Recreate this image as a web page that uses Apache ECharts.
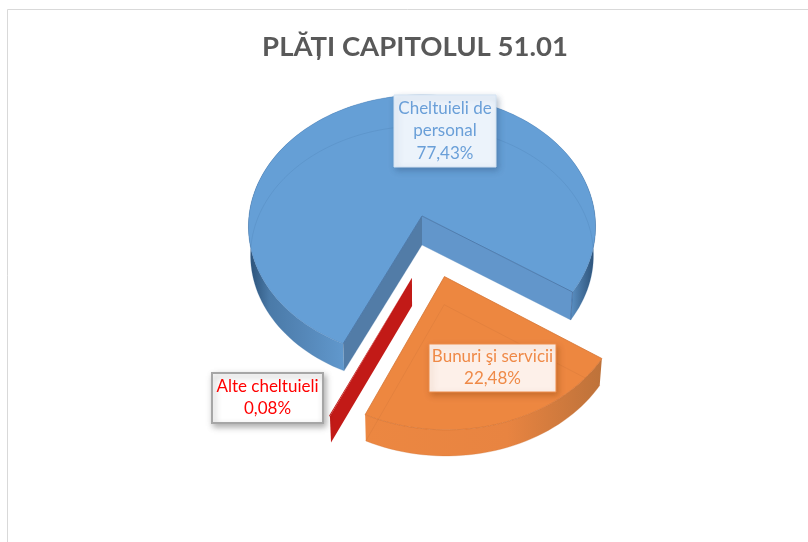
<!DOCTYPE html>
<html><head><meta charset="utf-8">
<style>html,body{margin:0;padding:0;background:#fff}#c{width:808px;height:542px}</style>
<script src="https://cdn.jsdelivr.net/npm/echarts@6/dist/echarts.min.js"></script>
</head><body><div id="c"></div>
<script>
const chartTitle = 'PLĂȚI CAPITOLUL 51.01';
const categories = ['Cheltuieli de\npersonal', 'Bunuri şi servicii', 'Alte cheltuieli'];
const values = [77.43, 22.48, 0.08];
const valueLabels = ['77,43%', '22,48%', '0,08%'];

// Projection and styling settings (not data)
const startAngle = 205, CX = 422, CY = 216, RX = 173, RY = 130.7, PERSP = 0.08, DEPTH = 29, SHRINK = 0.988;
const explode = [[0, 0], [0.125, 0.447], [-0.056, 0.456]];
const topColors = ['#659fd6', '#ed8740', '#c21a17'];
const hiddenLine = ['rgba(70,120,170,.22)', 'rgba(205,115,55,.3)', 'rgba(0,0,0,0)'];
const wallStops = [
  [[0, '#2a4f75'], [0.06, '#4a7aa8'], [0.16, '#5587b8'], [0.28, '#6199ce'], [0.92, '#6199ce'], [0.96, '#44719e'], [1, '#2a4f75']],
  [[0, '#ec8741'], [0.6, '#e88441'], [1, '#bd723a']],
  [[0, '#a91512'], [1, '#a91512']]
];
const labelBoxes = [
  {x: 394, y: 95, w: 102, h: 72, fill: '#ecf3fb', border: '#d3e3f3', bw: 1, color: '#6a9fd8', lh: 22.5, shadow: 'rgba(40,70,110,.35)'},
  {x: 429, y: 344, w: 127, h: 48, fill: '#fdf0e9', border: '#ee8c4a', bw: 1, color: '#ef8a48', lh: 22, shadow: 'rgba(130,60,10,.35)'},
  {x: 212, y: 373, w: 111, h: 50, fill: '#ffffff', border: '#a6a6a6', bw: 2, color: '#ff0000', lh: 22, shadow: 'rgba(0,0,0,.3)'}
];

const total = values.reduce((a, b) => a + b, 0);
const rad = d => d * Math.PI / 180;
function pt(theta, r, e, bottom) {
  const X = r * Math.sin(rad(theta)) + e[0], Y = -r * Math.cos(rad(theta)) + e[1];
  const k = 1 / (1 - PERSP * Y);
  const s = bottom ? SHRINK : 1;
  return [CX + RX * X * k * s, CY + RY * Y * k + (bottom ? DEPTH * (1 - 0.07 * Y) : 0)];
}
function arc(a, b, e, bottom) {
  const n = Math.max(2, Math.ceil(Math.abs(b - a) / 2)), out = [];
  for (let i = 0; i <= n; i++) out.push(pt(a + (b - a) * i / n, 1, e, bottom));
  return out;
}
function poly(points, style) { return {type: 'polygon', shape: {points}, style}; }

function renderItem(params, api) {
  const i = api.value(0);
  let before = 0;
  for (let j = 0; j < i; j++) before += values[j];
  const a = startAngle + before / total * 360;
  const b = a + api.value(1) / total * 360;
  const e = explode[i];
  const apexT = pt(0, 0, e, false), apexB = pt(0, 0, e, true);
  const topArc = arc(a, b, e, false), botArc = arc(a, b, e, true);
  const kids = [];
  const grad = {type: 'linear', x: 0, y: 0, x2: 1, y2: 0, colorStops: wallStops[i].map(s => ({offset: s[0], color: s[1]}))};

  if (i === 2) {
    kids.push(poly([apexT, topArc[0], botArc[0], apexB], {fill: '#c21a17'}));
    kids.push(poly([apexT].concat(topArc), {fill: '#c21a17'}));
  } else {
    kids.push(poly(topArc.concat(botArc.slice().reverse()), {fill: grad}));
    kids.push(poly([apexT].concat(topArc), {fill: topColors[i], stroke: i === 1 ? 'rgba(214,118,52,.8)' : 'rgba(80,130,185,.45)', lineWidth: 1}));
    // hidden lower edge seen through the translucent top
    kids.push({type: 'polyline', shape: {points: [apexB].concat(botArc).concat([apexB])},
      style: {fill: null, stroke: hiddenLine[i], lineWidth: 1}});
    if (i === 0) {
      kids.push(poly([apexT, pt(b, 1, e, false), pt(b, 1, e, true), apexB], {fill: '#6296cb'}));
      kids.push(poly([apexT, pt(a, 1, e, false), pt(a, 1, e, true), apexB], {fill: '#527ca7'}));
      kids.push({type: 'polyline', shape: {points: [pt(a, 1, e, false), apexT, pt(b, 1, e, false)]},
        style: {fill: null, stroke: 'rgba(70,115,165,.8)', lineWidth: 1}});
      kids.push({type: 'polyline', shape: {points: [pt(b, 1, e, false), pt(b, 1, e, true)]},
        style: {fill: null, stroke: 'rgba(60,100,150,.7)', lineWidth: 1}});
    }
  }

  const box = labelBoxes[i];
  const lines = categories[i].split('\n').concat([valueLabels[i]]);
  kids.push({type: 'rect', z2: 10, shape: {x: box.x, y: box.y, width: box.w, height: box.h},
    style: {fill: box.fill, stroke: box.border, lineWidth: box.bw,
      shadowBlur: 6, shadowOffsetX: 2, shadowOffsetY: 3, shadowColor: box.shadow}});
  const first = box.y + (box.h - box.lh * lines.length) / 2 + box.lh / 2;
  lines.forEach((t, n) => kids.push({type: 'text', z2: 11, style: {
    text: t, x: box.x + box.w / 2, y: first + n * box.lh, align: 'center', verticalAlign: 'middle',
    fill: box.color, font: '17px Lato'}}));
  return {type: 'group', children: kids};
}

const chart = echarts.init(document.getElementById('c'), null, {renderer: 'canvas'});
chart.setOption({
  animation: false,
  backgroundColor: '#ffffff',
  title: {text: chartTitle, left: 410, top: 28, textAlign: 'center',
    textStyle: {fontFamily: 'Lato', fontWeight: 'bold', fontSize: 27.5, color: '#595959'}},
  graphic: [
    {type: 'polyline', shape: {points: [[7.5, 542], [7.5, 9.5], [808, 9.5]]},
     style: {fill: null, stroke: '#d9d9d9', lineWidth: 1}}
  ],
  series: [{
    type: 'custom', coordinateSystem: 'none', renderItem, clip: false,
    data: values.map((v, i) => [i, v])
  }]
});
</script></body></html>
